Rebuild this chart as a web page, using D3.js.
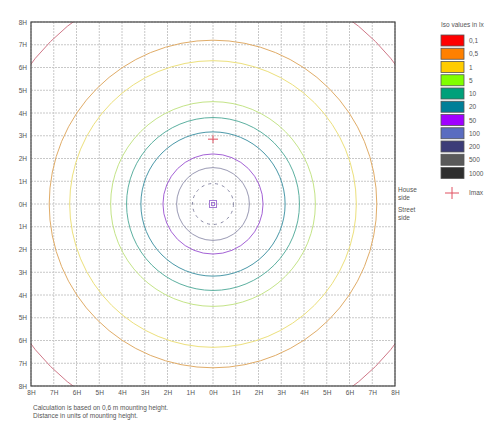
<!DOCTYPE html>
<html>
<head>
<meta charset="utf-8">
<script src="https://cdn.jsdelivr.net/npm/d3@7"></script>
<style>
  body { margin: 0; background: #fff; }
  text { font-family: "Liberation Sans", Arial, sans-serif; fill: #555; }
</style>
</head>
<body>
<div id="chart"></div>
<script>
// iso lux levels (legend)
var isoLabels = ["0,1", "0,5", "1", "5", "10", "20", "50", "100", "200", "500", "1000"];
var isoColors = ["#ff0000", "#ff8000", "#ffcc00", "#80ff00", "#00a07a", "#007f98", "#a000ff", "#5a6cc0", "#3c3c78", "#5a5a5a", "#2e2e2e"];

// iso lines drawn in the plot: radius in units of mounting height
var lineRadii = [10.1, 7.2, 6.3, 4.5, 3.8, 3.17, 2.2, 1.6];
var lineColors = ["#d07888", "#e0ac68", "#ece07c", "#c4e488", "#5cb0a0", "#4a98a8", "#a462d6", "#9a9ab4"];
var dashedRadius = 0.9;

var ticks = [-8, -7, -6, -5, -4, -3, -2, -1, 0, 1, 2, 3, 4, 5, 6, 7, 8];
var imaxPos = [0, 2.85];

var footer = ["Calculation is based on 0,6 m mounting height.", "Distance in units of mounting height."];

var width = 500, height = 432;

var svg = d3.select("#chart").append("svg")
    .attr("width", width)
    .attr("height", height)

var x = d3.scaleLinear().domain([-8, 8]).range([31, 395]);
var y = d3.scaleLinear().domain([8, -8]).range([22, 386]);
var unit = x(1) - x(0);

svg.append("clipPath").attr("id", "clip")
    .append("rect")
    .attr("x", x(-8)).attr("y", y(8))
    .attr("width", x(8) - x(-8)).attr("height", y(-8) - y(8))

/* grid */
var grid = svg.append("g")
grid.selectAll("line.v").data(ticks).enter().append("line")
    .attr("x1", function (d) { return x(d) }).attr("x2", function (d) { return x(d) })
    .attr("y1", y(8)).attr("y2", y(-8))
    .attr("stroke", "#c8c8c8").attr("stroke-width", 1)
    .attr("stroke-dasharray", "2,1")
grid.selectAll("line.h").data(ticks).enter().append("line")
    .attr("y1", function (d) { return y(d) }).attr("y2", function (d) { return y(d) })
    .attr("x1", x(-8)).attr("x2", x(8))
    .attr("stroke", "#c8c8c8").attr("stroke-width", 1)
    .attr("stroke-dasharray", "2,1")

/* iso lines */
var plot = svg.append("g").attr("clip-path", "url(#clip)")
plot.selectAll("circle.iso").data(lineRadii).enter().append("circle")
    .attr("cx", x(0)).attr("cy", y(0))
    .attr("r", function (d) { return d * unit })
    .attr("fill", "none")
    .attr("stroke", function (d, i) { return lineColors[i] })
    .attr("stroke-width", 1)

plot.append("circle")
    .attr("cx", x(0)).attr("cy", y(0))
    .attr("r", dashedRadius * unit)
    .attr("fill", "none")
    .attr("stroke", "#8a8aa6")
    .attr("stroke-width", 1)
    .attr("stroke-dasharray", "3,4")

// luminaire symbol at centre
plot.append("rect")
    .attr("x", x(0) - 3.5).attr("y", y(0) - 3.5)
    .attr("width", 7).attr("height", 7)
    .attr("fill", "none").attr("stroke", "#a47ad4")
plot.append("rect")
    .attr("x", x(0) - 1.5).attr("y", y(0) - 1.5)
    .attr("width", 3).attr("height", 3)
    .attr("fill", "none").attr("stroke", "#a47ad4")

// Imax marker
var imax = svg.append("g").attr("stroke", "#e05060")
imax.append("line")
    .attr("x1", x(imaxPos[0]) - 5).attr("x2", x(imaxPos[0]) + 5)
    .attr("y1", y(imaxPos[1])).attr("y2", y(imaxPos[1]))
imax.append("line")
    .attr("x1", x(imaxPos[0])).attr("x2", x(imaxPos[0]))
    .attr("y1", y(imaxPos[1]) - 4).attr("y2", y(imaxPos[1]) + 4)

/* frame */
svg.append("rect")
    .attr("x", x(-8)).attr("y", y(8))
    .attr("width", x(8) - x(-8)).attr("height", y(-8) - y(8))
    .attr("fill", "none").attr("stroke", "#444").attr("stroke-width", 1.2)

/* axes labels */
var fmt = function (d) { return Math.abs(d) + "H" };
var yAxis = svg.append("g")
    .attr("transform", "translate(" + x(-8) + ",0)")
    .call(d3.axisLeft(y).tickValues(ticks).tickFormat(fmt).tickSize(0).tickPadding(4))
var xAxis = svg.append("g")
    .attr("transform", "translate(0," + y(-8) + ")")
    .call(d3.axisBottom(x).tickValues(ticks).tickFormat(fmt).tickSize(0).tickPadding(4))
svg.selectAll(".domain").remove()
svg.selectAll(".tick text")
    .attr("font-size", 6.5)
    .attr("fill", "#555")
    .attr("font-family", "'Liberation Sans', Arial, sans-serif")

/* side labels */
var side = svg.append("g").attr("font-size", 6.5)
side.append("text").attr("x", 398).attr("y", 192).text("House")
side.append("text").attr("x", 398).attr("y", 199.5).text("side")
side.append("text").attr("x", 398).attr("y", 212).text("Street")
side.append("text").attr("x", 398).attr("y", 219.5).text("side")

/* legend */
var legend = svg.append("g")
legend.append("text")
    .attr("x", 441).attr("y", 27)
    .attr("font-size", 6.5)
    .text("Iso values in lx")
var item = legend.selectAll("g.item").data(isoLabels).enter().append("g")
    .attr("transform", function (d, i) { return "translate(441," + (35 + i * 13.25) + ")" })
item.append("rect")
    .attr("width", 23).attr("height", 11)
    .attr("fill", function (d, i) { return isoColors[i] })
    .attr("stroke", "#555").attr("stroke-width", 0.8)
item.append("text")
    .attr("x", 28).attr("y", 8)
    .attr("font-size", 6.5)
    .text(function (d) { return d })

var im = legend.append("g").attr("transform", "translate(452,193)")
im.append("line").attr("x1", -7).attr("x2", 7).attr("stroke", "#e05060")
im.append("line").attr("y1", -6).attr("y2", 6).attr("stroke", "#e05060")
legend.append("text").attr("x", 469).attr("y", 195).attr("font-size", 6.5).text("Imax")

/* footer */
svg.selectAll("text.foot").data(footer).enter().append("text")
    .attr("x", 33).attr("y", function (d, i) { return 410 + i * 7.5 })
    .attr("font-size", 6.5)
    .text(function (d) { return d })
</script>
</body>
</html>
